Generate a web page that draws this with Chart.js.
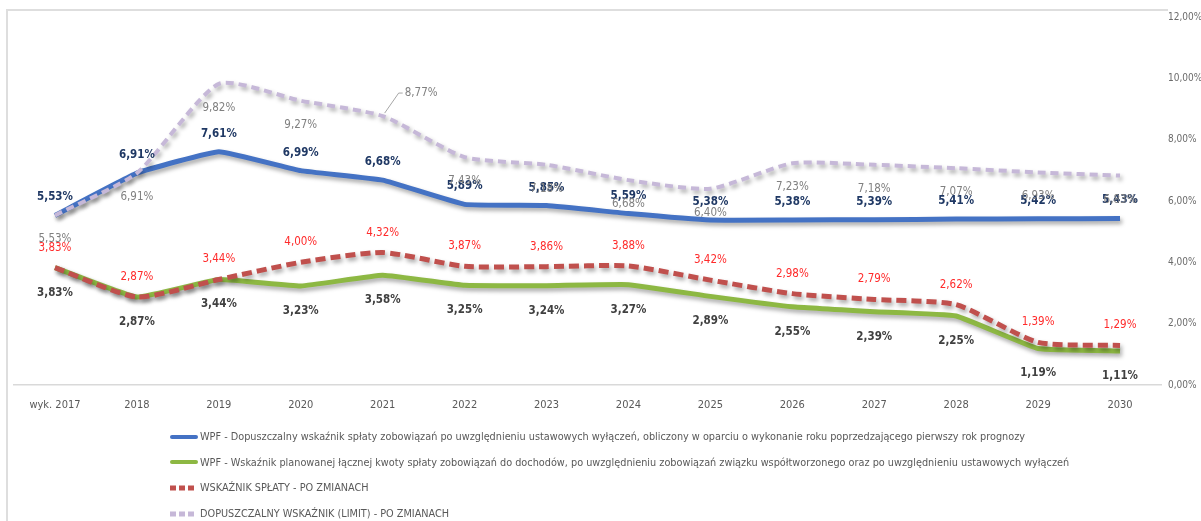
<!DOCTYPE html>
<html>
<head>
<meta charset="utf-8">
<script src="https://cdn.jsdelivr.net/npm/chart.js@4.4.1/dist/chart.umd.min.js"></script>
<style>
  body { margin: 0; background: #fff; }
  #wrap { position: relative; width: 1201px; height: 521px; overflow: hidden; font-family: 'Liberation Sans Narrow', 'DejaVu Sans Condensed', 'Liberation Sans', sans-serif; }
  #frame { position: absolute; left: 6px; top: 9px; width: 1160px; height: 530px; border-top: 2px solid #dedede; border-left: 2px solid #dedede; }
  #chart { position: absolute; left: 0; top: 0; }
  #legend { position: absolute; left: 168px; top: 424px; }
  .row { height: 25.6px; display: flex; align-items: center; font-size: 10.8px; color: #595959; white-space: nowrap; }
  .row canvas { margin-right: 2px; }
</style>
</head>
<body>
<div id="wrap">
  <div id="frame"></div>
  <canvas id="chart" width="1201" height="420"></canvas>
  <div id="legend"></div>
</div>
<script>
var FONT = "'Liberation Sans Narrow', 'DejaVu Sans Condensed', 'Liberation Sans', sans-serif";

// dane z wykresu (%)
var years = ['wyk. 2017', '2018', '2019', '2020', '2021', '2022', '2023', '2024', '2025', '2026', '2027', '2028', '2029', '2030'];
var wpfLimit = [5.53, 6.91, 7.61, 6.99, 6.68, 5.89, 5.85, 5.59, 5.38, 5.38, 5.39, 5.41, 5.42, 5.43];
var wpfRatio = [3.83, 2.87, 3.44, 3.23, 3.58, 3.25, 3.24, 3.27, 2.89, 2.55, 2.39, 2.25, 1.19, 1.11];
var ratioChanged = [3.83, 2.87, 3.44, 4.00, 4.32, 3.87, 3.86, 3.88, 3.42, 2.98, 2.79, 2.62, 1.39, 1.29];
var limitChanged = [5.53, 6.91, 9.82, 9.27, 8.77, 7.43, 7.18, 6.68, 6.40, 7.23, 7.18, 7.07, 6.93, 6.83];
var yTicks = [0, 2, 4, 6, 8, 10, 12];
var seriesNames = [
  'WPF - Dopuszczalny wskaźnik spłaty zobowiązań po uwzględnieniu ustawowych wyłączeń, obliczony w oparciu o wykonanie roku poprzedzającego pierwszy rok prognozy',
  'WPF - Wskaźnik planowanej łącznej kwoty spłaty zobowiązań do dochodów, po uwzględnieniu zobowiązań związku współtworzonego oraz po uwzględnieniu ustawowych wyłączeń',
  'WSKAŹNIK SPŁATY - PO ZMIANACH',
  'DOPUSZCZALNY WSKAŹNIK (LIMIT) - PO ZMIANACH'
];

function pct(v) {
  return v.toFixed(2).replace('.', ',') + '%';
}

// cień pod liniami jak w Excelu
var lineShadow = {
  id: 'lineShadow',
  beforeDatasetDraw: function (chart) {
    var c = chart.ctx;
    c.save();
    c.shadowColor = 'rgba(0,0,0,0.35)';
    c.shadowBlur = 4;
    c.shadowOffsetX = 2;
    c.shadowOffsetY = 3;
  },
  afterDatasetDraw: function (chart) {
    chart.ctx.restore();
  }
};

// etykiety wartości
var pointLabels = {
  id: 'pointLabels',
  afterDatasetsDraw: function (chart, args, opts) {
    var ctx = chart.ctx;
    opts.styles.forEach(function (st, di) {
      var meta = chart.getDatasetMeta(di);
      var values = chart.data.datasets[di].data;
      ctx.save();
      ctx.font = (st.bold ? 'bold ' : '') + opts.size + 'px ' + FONT;
      ctx.fillStyle = st.color;
      ctx.textBaseline = 'middle';
      meta.data.forEach(function (pt, i) {
        var txt = pct(values[i]);
        var c = opts.callout;
        if (c && c.dataset === di && c.index === i) {
          ctx.strokeStyle = c.color;
          ctx.lineWidth = 1;
          ctx.beginPath();
          ctx.moveTo(pt.x + 2, pt.y - 3);
          ctx.lineTo(pt.x + c.dx - 6, pt.y + c.dy);
          ctx.lineTo(pt.x + c.dx - 2, pt.y + c.dy);
          ctx.stroke();
          ctx.textAlign = 'left';
          ctx.fillText(txt, pt.x + c.dx, pt.y + c.dy);
          return;
        }
        ctx.textAlign = 'center';
        ctx.fillText(txt, pt.x, pt.y + st.dy);
      });
      ctx.restore();
    });
  }
};

var ctx = document.getElementById('chart').getContext('2d');

var chart = new Chart(ctx, {
  type: 'line',
  data: {
    labels: years,
    datasets: [{
      label: seriesNames[0],
      data: wpfLimit,
      borderColor: '#4472C4',
      borderWidth: 5,
      order: 2,
      tension: 0.1
    }, {
      label: seriesNames[1],
      data: wpfRatio,
      borderColor: '#8DB843',
      borderWidth: 5,
      order: 3,
      tension: 0.1
    }, {
      label: seriesNames[2],
      data: ratioChanged,
      borderColor: '#C0504D',
      borderWidth: 5,
      borderDash: [10, 5],
      order: 1,
      tension: 0.2
    }, {
      label: seriesNames[3],
      data: limitChanged,
      borderColor: '#C6B8D8',
      borderWidth: 4,
      borderDash: [8, 5],
      order: 0,
      tension: 0.2
    }]
  },
  options: {
    responsive: false,
    animation: false,
    elements: { point: { radius: 0, hoverRadius: 0 } },
    layout: { padding: { left: 14, top: 17, right: 0, bottom: 0 } },
    scales: {
      x: {
        offset: true,
        grid: { display: false, drawTicks: false, offset: true },
        border: { color: '#d9d9d9', width: 1.5 },
        ticks: { color: '#595959', font: { family: FONT, size: 11 }, padding: 14, maxRotation: 0, autoSkip: false },
        afterFit: function (s) { s.height = 35; }
      },
      y: {
        position: 'right',
        min: 0,
        max: 12,
        afterBuildTicks: function (s) { s.ticks = yTicks.map(function (v) { return { value: v }; }); },
        grid: { display: false, drawTicks: false },
        border: { display: false },
        ticks: {
          color: '#6b6b6b', font: { family: FONT, size: 10 }, padding: 7,
          callback: function (v) { return pct(v); }
        },
        afterFit: function (s) { s.width = 40; }
      }
    },
    plugins: {
      legend: { display: false },
      tooltip: { enabled: false },
      pointLabels: {
        size: 11.5,
        styles: [
          { color: '#1F3864', bold: true, dy: -18 },
          { color: '#404040', bold: true, dy: 25 },
          { color: '#FF2B2B', bold: false, dy: -20 },
          { color: '#808080', bold: false, dy: 24 }
        ],
        callout: { dataset: 3, index: 4, dx: 22, dy: -23, color: '#A6A6A6' }
      }
    }
  },
  plugins: [lineShadow, pointLabels]
});

// legenda pod wykresem
var legend = document.getElementById('legend');
chart.data.datasets.forEach(function (ds) {
  var row = document.createElement('div');
  row.className = 'row';
  var sw = document.createElement('canvas');
  sw.width = 30;
  sw.height = 10;
  var c = sw.getContext('2d');
  c.strokeStyle = ds.borderColor;
  c.lineWidth = ds.borderDash ? 5 : 4;
  c.lineCap = ds.borderDash ? 'butt' : 'round';
  c.setLineDash(ds.borderDash ? [6, 3] : []);
  c.beginPath();
  c.moveTo(ds.borderDash ? 2 : 4, 5);
  c.lineTo(28, 5);
  c.stroke();
  row.appendChild(sw);
  var t = document.createElement('span');
  t.textContent = ds.label;
  row.appendChild(t);
  legend.appendChild(row);
});
</script>
</body>
</html>
